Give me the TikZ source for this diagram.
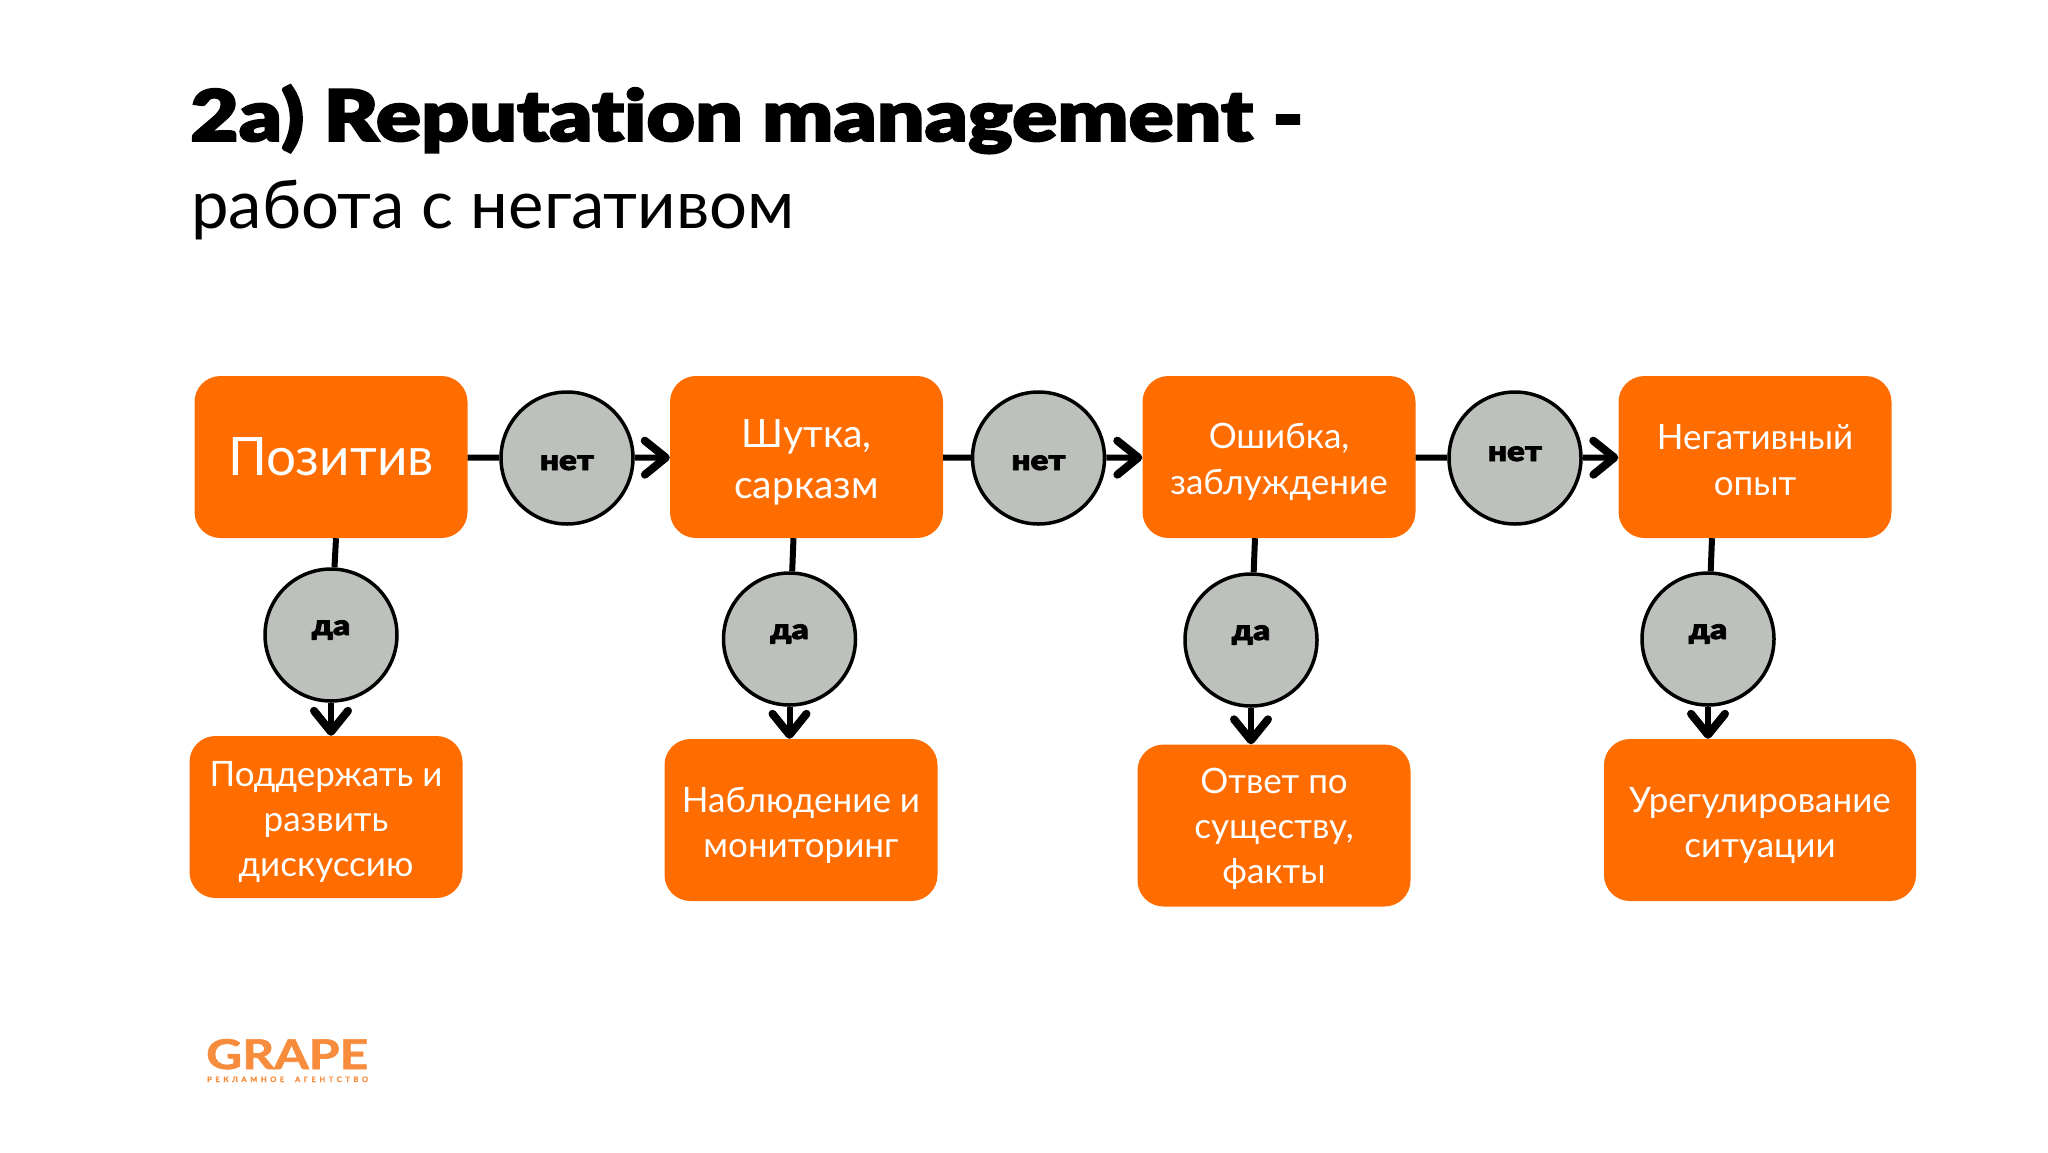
\documentclass[tikz,border=0pt]{standalone}
\usepackage{fontspec}
\setmainfont[BoldFeatures={FakeBold=1.5}]{Lato}
\newfontfamily\heavyfont[FakeBold=2.5, FakeStretch=1.18, Ligatures=NoCommon]{Lato Black}
\usetikzlibrary{arrows.meta, calc}
\definecolor{boxorange}{RGB}{255, 108, 0}
\definecolor{logoorange}{RGB}{247, 140, 60}
\definecolor{choicegray}{RGB}{189, 193, 187}

\begin{document}
\begin{tikzpicture}[
      x=1pt, y=-1pt,
      >={Straight Barb[length=21pt, width=34pt, round, line width=8pt]},
      stagebox/.style={rectangle, rounded corners=26pt, fill=boxorange, text=white, align=center, minimum width=273pt, minimum height=162pt, inner sep=0pt, font=\fontsize{35}{46}\selectfont},
      resultbox/.style={stagebox, font=\fontsize{35}{45}\selectfont},
      textdrop/.style={execute at begin node={\rule{0pt}{#1}}},
      choice/.style={circle, draw=black, line width=3.5pt, fill=choicegray, minimum size=132pt, inner sep=0pt, font=\fontsize{28}{34}\selectfont\heavyfont},
      link/.style={line width=6pt, draw=black},
      linkto/.style={link, ->}
  ]
  \useasboundingbox (0,0) rectangle (2048,1152);

  % Title
  \node[anchor=base west, inner sep=0pt, font=\fontsize{71}{80}\selectfont\heavyfont] (title) at (190,141) {2a) Reputation management -};
  \node[anchor=base west, inner sep=0pt, font=\fontsize{67}{70}\selectfont] (subtitle) at (191,228) {работа с негативом};

  % Top row
  \node[stagebox, font=\fontsize{53}{60}\selectfont, textdrop=34pt] (pozitiv) at (331,457) {Позитив};
  \node[stagebox, font=\fontsize{39}{51}\selectfont, textdrop=90pt] (shutka) at (806.5,457) {Шутка,\\сарказм};
  \node[stagebox, textdrop=81pt] (oshibka) at (1279,457) {Ошибка,\\заблуждение};
  \node[stagebox, textdrop=78pt] (negativ) at (1755,457) {Негативный\\опыт};

  % Choices: no
  \node[choice] (net1) at (567,458) {\raisebox{-12pt}[0pt][0pt]{нет}};
  \node[choice] (net2) at (1038.5,458) {\raisebox{-12pt}[0pt][0pt]{нет}};
  \node[choice] (net3) at (1515,458) {\raisebox{-3pt}[0pt][0pt]{нет}};

  % Choices: yes
  \node[choice] (da1) at (331,635) {\raisebox{0pt}[0pt][0pt]{да}};
  \node[choice] (da2) at (789.5,639) {\raisebox{0pt}[0pt][0pt]{да}};
  \node[choice] (da3) at (1251,640) {\raisebox{0pt}[0pt][0pt]{да}};
  \node[choice] (da4) at (1708,639) {\raisebox{0pt}[0pt][0pt]{да}};

  % Bottom row
  \node[resultbox, textdrop=126pt] (res1) at (326,817) {Поддержать и\\развить\\дискуссию};
  \node[resultbox, textdrop=81pt] (res2) at (801,820) {Наблюдение и\\мониторинг};
  \node[resultbox, textdrop=122pt] (res3) at (1274,825.5) {Ответ по\\существу,\\факты};
  \node[resultbox, textdrop=81pt, minimum width=312pt] (res4) at (1760,820) {Урегулирование\\ситуации};

  % Along the row
  \draw[link] (pozitiv) -- (net1);
  \draw[linkto] (net1) -- (shutka);
  \draw[link] (shutka) -- (net2);
  \draw[linkto] (net2) -- (oshibka);
  \draw[link] (oshibka) -- (net3);
  \draw[linkto] (net3) -- (negativ);

  % Down to the answers
  \draw[link] ([xshift=5pt]pozitiv.south) -- (da1);
  \draw[link] ([xshift=-13pt]shutka.south) -- (da2);
  \draw[link] ([xshift=-24pt]oshibka.south) -- (da3);
  \draw[link] ([xshift=-43pt]negativ.south) -- (da4);
  \draw[linkto] (da1) -- (da1 |- res1.north);
  \draw[linkto] (da2) -- (da2 |- res2.north);
  \draw[linkto] (da3) -- (da3 |- res3.north);
  \draw[linkto] (da4) -- (da4 |- res4.north);

  % Logo
  \node[anchor=base west, inner sep=0pt, text=logoorange, font=\fontsize{40}{40}\selectfont\bfseries] (logo) at (206,1069) {\resizebox{162pt}{30pt}{GRAPE}};
  \node[anchor=base west, inner sep=0pt, text=logoorange, font=\fontsize{7.5}{8}\selectfont\bfseries] (logotext) at (207,1082) {\addfontfeature{LetterSpace=48}РЕКЛАМНОЕ\ \ АГЕНТСТВО};
\end{tikzpicture}
\end{document}
